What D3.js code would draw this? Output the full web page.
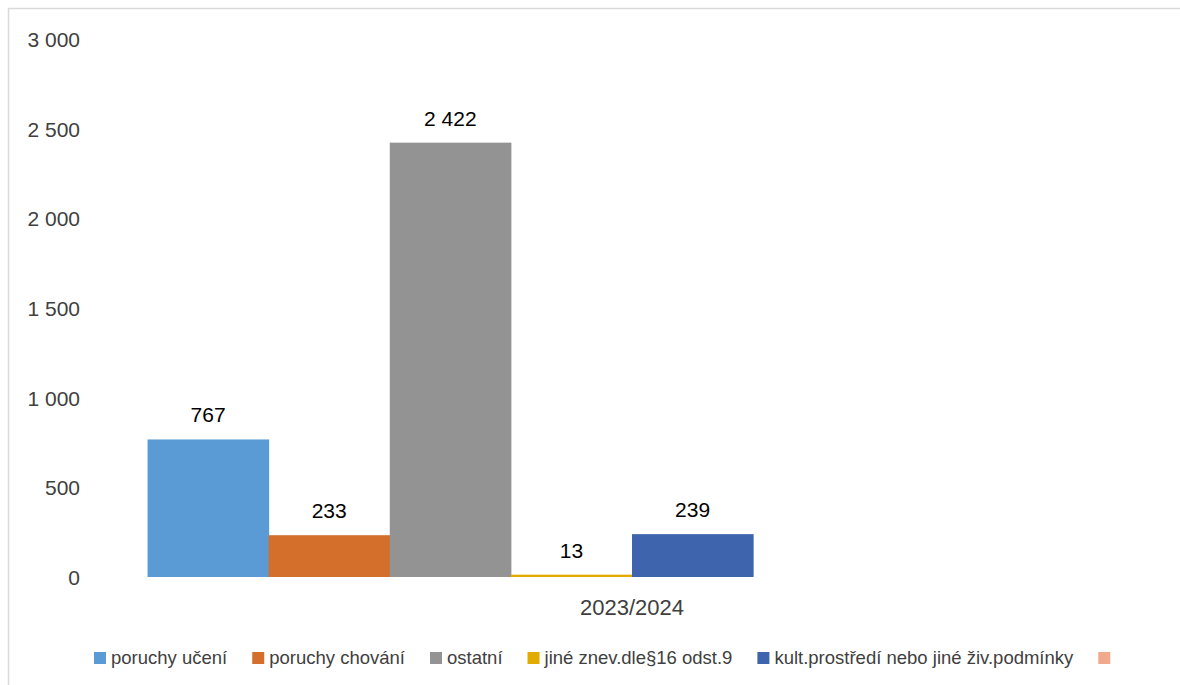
<!DOCTYPE html>
<html>
<head>
<meta charset="utf-8">
<script src="https://cdn.jsdelivr.net/npm/d3@7"></script>
<style>
  body { margin: 0; background: #fff; }
  text { font-family: "Liberation Sans", "DejaVu Sans", sans-serif; }
</style>
</head>
<body>
<svg id="chart" width="1180" height="685"></svg>
<script>
let categories = ['2023/2024'];
let seriesNames = ['poruchy učení', 'poruchy chování', 'ostatní', 'jiné znev.dle§16 odst.9', 'kult.prostředí nebo jiné živ.podmínky', '', '', ''];
let seriesValues = [767, 233, 2422, 13, 239, null, null, null];
let seriesColors = ['#5B9BD5', '#D36F2B', '#939393', '#E3AB00', '#3D64AD', '#F1A88B', '#7F7F7F', '#7F7F7F'];
let legendCount = 6;
let yTicks = [0, 500, 1000, 1500, 2000, 2500, 3000];

let svg = d3.select('#chart');

// chart frame
svg.append('rect')
    .attr('x', 8.5).attr('y', 8.5)
    .attr('width', 1200).attr('height', 700)
    .attr('fill', 'none')
    .attr('stroke', '#D9D9D9')
    .attr('stroke-width', 1.5);

let plotLeft = 90, plotRight = 1174, plotTop = 39, plotBottom = 577;

let y = d3.scaleLinear().domain([0, 3000]).range([plotBottom, plotTop]);

let x0 = d3.scaleBand().domain(categories).range([plotLeft, plotRight]).paddingOuter(0.0594).paddingInner(0);
let x1 = d3.scaleBand().domain(d3.range(seriesNames.length)).range([0, x0.bandwidth()]).padding(0);

let fmt = v => d3.format(',')(v).replace(/,/g, ' ');

// y axis labels (no line)
let yAxis = svg.append('g')
    .attr('transform', 'translate(80,0)')
    .call(d3.axisLeft(y).tickValues(yTicks).tickSize(0).tickPadding(0).tickFormat(fmt));
yAxis.select('.domain').remove();
yAxis.selectAll('text')
    .attr('fill', '#404040')
    .style('font-size', '21px')
    .attr('dy', '0.35em');

// bars
let group = svg.append('g')
    .selectAll('g')
    .data(categories)
    .enter()
    .append('g')
    .attr('transform', (d) => 'translate(' + x0(d) + ',0)');

let barData = seriesValues.map((v, i) => ({ i: i, v: v })).filter((d) => d.v !== null);

group.selectAll('rect')
    .data(barData)
    .enter()
    .append('rect')
    .attr('x', (d) => x1(d.i))
    .attr('width', x1.bandwidth() + 0.5)
    .attr('y', (d) => y(d.v))
    .attr('height', (d) => plotBottom - y(d.v))
    .attr('fill', (d) => seriesColors[d.i]);

group.selectAll('text.label')
    .data(barData)
    .enter()
    .append('text')
    .attr('class', 'label')
    .attr('x', (d) => x1(d.i) + x1.bandwidth() / 2)
    .attr('y', (d) => y(d.v) - 17)
    .attr('text-anchor', 'middle')
    .attr('fill', '#000')
    .style('font-size', '21px')
    .text((d) => fmt(d.v));

// category axis label
let xAxis = svg.append('g')
    .attr('transform', 'translate(0,' + plotBottom + ')')
    .call(d3.axisBottom(x0).tickSize(0).tickPadding(0));
xAxis.select('.domain').remove();
xAxis.selectAll('text')
    .attr('y', 30)
    .attr('dy', '0.35em')
    .attr('fill', '#404040')
    .style('font-size', '22px');

// legend
let legend = svg.append('g').attr('transform', 'translate(94,658)');
let lx = 0;
seriesNames.slice(0, legendCount).forEach((name, i) => {
    let item = legend.append('g').attr('transform', 'translate(' + lx + ',0)');
    item.append('rect')
        .attr('x', 0).attr('y', -6)
        .attr('width', 12).attr('height', 12)
        .attr('fill', seriesColors[i]);
    let t = item.append('text')
        .attr('x', 17)
        .attr('dy', '0.35em')
        .attr('fill', '#404040')
        .style('font-size', '18.5px')
        .text(name);
    let w = t.node().getComputedTextLength();
    lx += 17 + w + 25;
});
</script>
</body>
</html>
